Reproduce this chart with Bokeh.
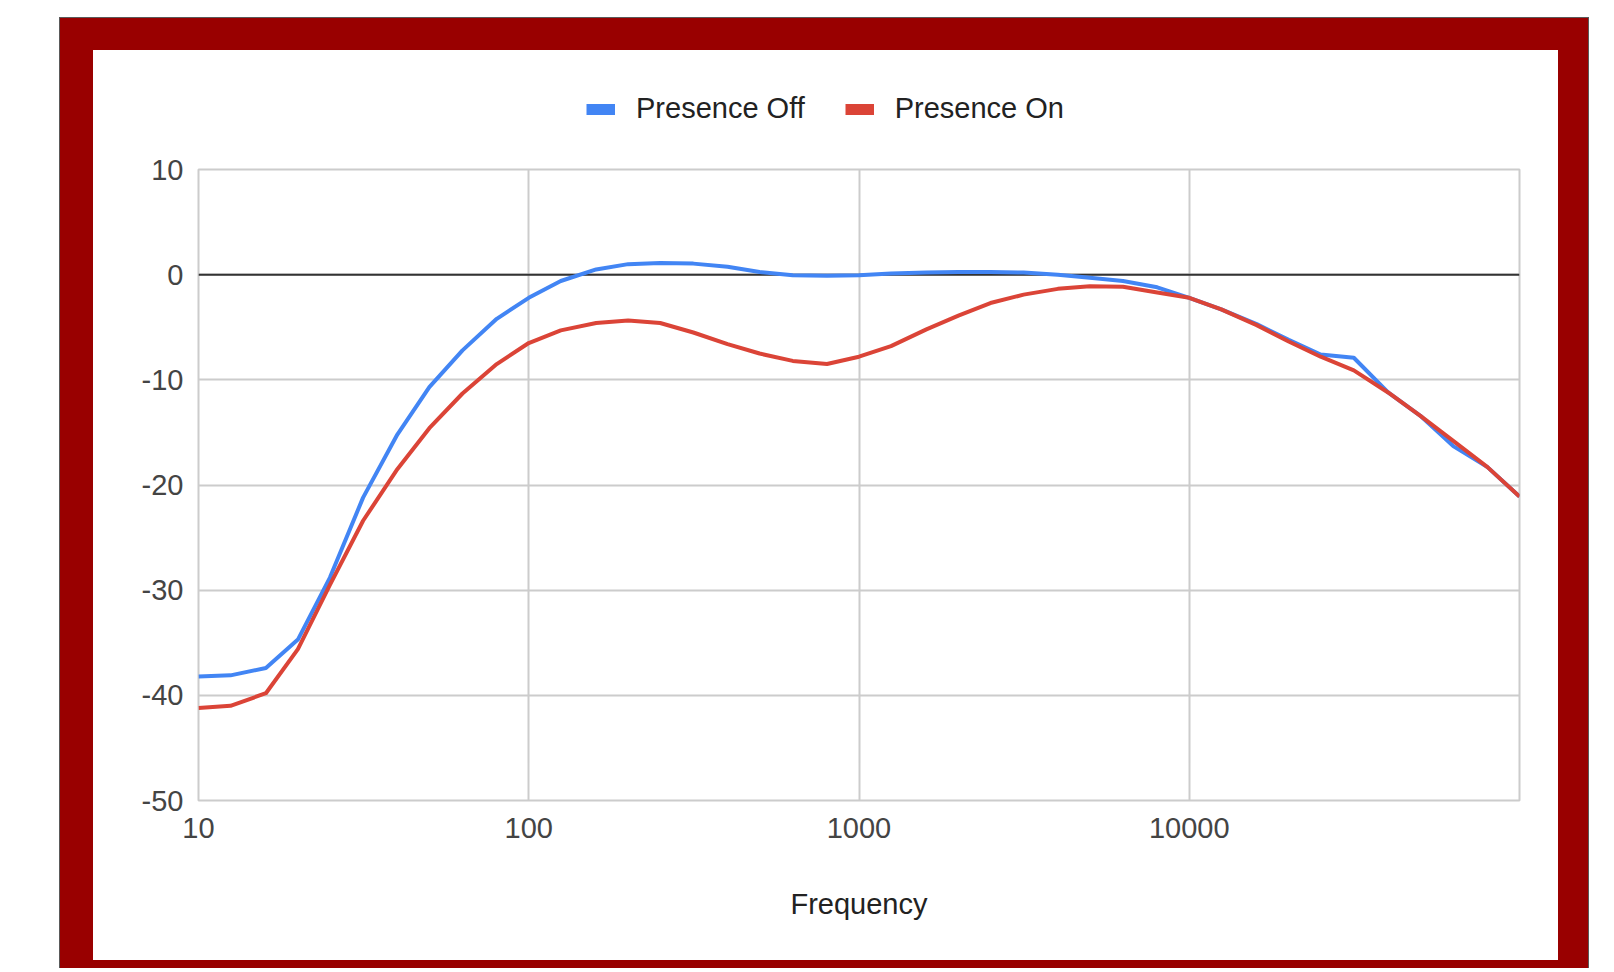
from bokeh.plotting import figure
from bokeh.models import Range1d, FixedTicker, Span, Legend, LegendItem
from bokeh.layouts import column
from bokeh.embed import file_html
from bokeh.resources import INLINE

# ---- data ----
freq = [10, 12.5, 16, 20, 25, 31.5, 40, 50, 63, 80,
        100, 125, 160, 200, 250, 315, 400, 500, 630, 800,
        1000, 1250, 1600, 2000, 2500, 3150, 4000, 5000, 6300, 8000,
        10000, 12500, 16000, 20000, 25000, 31500, 40000, 50000, 63000, 80000,
        100000]
presence_off = [-38.2, -38.1, -37.4, -34.7, -28.8, -21.2, -15.2, -10.7, -7.2, -4.2,
                -2.2, -0.6, 0.5, 1.0, 1.1, 1.05, 0.75, 0.25, -0.05, -0.1,
                -0.05, 0.1, 0.2, 0.25, 0.25, 0.2, 0.0, -0.3, -0.6, -1.2,
                -2.2, -3.3, -4.7, -6.2, -7.6, -7.9, -11.2, -13.4, -16.3, -18.3,
                -21.1]
presence_on = [-41.2, -41.0, -39.8, -35.6, -29.5, -23.4, -18.5, -14.6, -11.3, -8.5,
               -6.5, -5.3, -4.6, -4.35, -4.6, -5.5, -6.6, -7.5, -8.2, -8.5,
               -7.8, -6.8, -5.2, -3.9, -2.7, -1.9, -1.35, -1.1, -1.15, -1.7,
               -2.2, -3.3, -4.8, -6.35, -7.8, -9.1, -11.2, -13.4, -15.8, -18.3,
               -21.1]
series_names = ["Presence Off", "Presence On"]
x_ticks = [10, 100, 1000, 10000]
x_tick_labels = ["10", "100", "1000", "10000"]
y_ticks = [-50, -40, -30, -20, -10, 0, 10]
y_tick_labels = ["-50", "-40", "-30", "-20", "-10", "0", "10"]
x_title = "Frequency"

BLUE = "#4285F4"
RED = "#DB4437"
FONT = "Liberation Sans"

# ---------- legend strip (top of the white panel) ----------
lf = figure(width=1465, height=99, x_axis_type="log",
            x_range=Range1d(10, 100000), y_range=Range1d(-50, 10),
            x_axis_location=None, y_axis_location=None,
            output_backend="svg", toolbar_location=None,
            min_border_left=0, min_border_right=0,
            min_border_top=0, min_border_bottom=0,
            background_fill_color="white", border_fill_color="white")
lf.grid.visible = False
lf.outline_line_color = None
sw_off = lf.line(freq, presence_off, line_color=BLUE, line_width=11, visible=False)
sw_on = lf.line(freq, presence_on, line_color=RED, line_width=11, visible=False)
legend = Legend(items=[LegendItem(label=series_names[0], renderers=[sw_off]),
                       LegendItem(label=series_names[1], renderers=[sw_on])],
                orientation="horizontal", location=(388, 24),
                label_text_font=FONT, label_text_font_size="29px",
                label_text_color="#222222", label_standoff=21,
                glyph_width=29, glyph_height=32, spacing=40,
                padding=0, margin=0, border_line_color=None,
                background_fill_alpha=0, inactive_fill_alpha=0)
lf.add_layout(legend, "center")

# ---------- main chart ----------
p = figure(width=1465, height=811, x_axis_type="log",
           x_range=Range1d(10, 100000), y_range=Range1d(-50, 10),
           output_backend="svg", toolbar_location=None,
           min_border_left=105, min_border_right=39,
           min_border_top=20, min_border_bottom=160,
           background_fill_color="white", border_fill_color="white")

p.outline_line_color = "#cccccc"
p.outline_line_width = 2

p.xaxis.ticker = FixedTicker(ticks=x_ticks)
p.xaxis.major_label_overrides = dict(zip(x_ticks, x_tick_labels))
p.yaxis.ticker = FixedTicker(ticks=y_ticks)
p.yaxis.major_label_overrides = dict(zip(y_ticks, y_tick_labels))
for ax in (p.xaxis, p.yaxis):
    ax.axis_line_color = None
    ax.major_tick_line_color = None
    ax.minor_tick_line_color = None
    ax.major_tick_in = 0
    ax.major_tick_out = 0
    ax.major_label_text_font = FONT
    ax.major_label_text_font_size = "29px"
    ax.major_label_text_color = "#444444"
p.yaxis.major_label_standoff = 15
p.xaxis.major_label_standoff = 17
p.xaxis.axis_label = x_title
p.xaxis.axis_label_text_font = FONT
p.xaxis.axis_label_text_font_size = "29px"
p.xaxis.axis_label_text_font_style = "normal"
p.xaxis.axis_label_text_color = "#222222"
p.xaxis.axis_label_standoff = 47

p.grid.grid_line_color = "#cccccc"
p.grid.grid_line_width = 2
p.xgrid.minor_grid_line_color = None

zero = Span(location=0, dimension="width", line_color="#333333",
            line_width=2, level="underlay")
p.add_layout(zero)

r_off = p.line(freq, presence_off, line_color=BLUE, line_width=4, line_join="round")
r_on = p.line(freq, presence_on, line_color=RED, line_width=4, line_join="round")

inner = column(lf, p, spacing=0, styles={"background-color": "white"})
wrapper = column(inner, margin=(17, 0, 0, 59),
                 styles={"background-color": "#990000",
                         "padding": "32px 30px 8px 33px",
                         "border": "1px solid #5a5a5a",
                         "border-bottom": "none"})

open("out.html", "w").write(file_html(wrapper, INLINE))
